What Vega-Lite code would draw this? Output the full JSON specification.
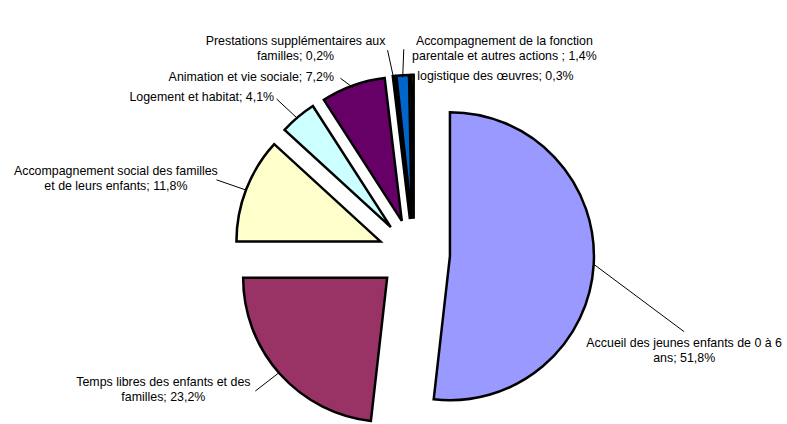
{
  "$schema": "https://vega.github.io/schema/vega-lite/v6.json",
  "width": 787,
  "height": 424,
  "padding": 0,
  "autosize": {"type": "fit", "contains": "padding"},
  "background": "white",
  "config": {"view": {"stroke": null}},
  "data": {
    "values": [
      {"categorie": "Accueil", "label": "Accueil des jeunes enfants de 0 à 6\nans; 51,8%", "value": 51.8},
      {"categorie": "Temps libres", "label": "Temps libres des enfants et des\nfamilles; 23,2%", "value": 23.2},
      {"categorie": "Accompagnement social", "label": "Accompagnement social des familles\net de leurs enfants; 11,8%", "value": 11.8},
      {"categorie": "Logement", "label": "Logement et habitat; 4,1%", "value": 4.1},
      {"categorie": "Animation", "label": "Animation et vie sociale; 7,2%", "value": 7.2},
      {"categorie": "Prestations", "label": "Prestations supplémentaires aux\nfamilles; 0,2%", "value": 0.2},
      {"categorie": "Fonction parentale", "label": "Accompagnement de la fonction\nparentale et autres actions ; 1,4%", "value": 1.4},
      {"categorie": "Logistique", "label": "logistique des œuvres; 0,3%", "value": 0.3}
    ]
  },
  "transform": [
    {"window": [{"op": "sum", "field": "value", "as": "cum"}], "frame": [null, 0]},
    {"calculate": "datum.cum - datum.value", "as": "start"},
    {"calculate": "(datum.start + datum.value / 2) * PI / 50", "as": "m"},
    {"calculate": "sin(datum.m)", "as": "sx"},
    {"calculate": "cos(datum.m)", "as": "sy"},
    {"calculate": "0.25 * datum.sx", "as": "ex"},
    {"calculate": "0.25 * datum.sy", "as": "ey"},
    {"calculate": "1.25 * datum.sx", "as": "ax"},
    {"calculate": "1.25 * datum.sy", "as": "ay"},
    {"calculate": "1.45 * datum.sx", "as": "px"},
    {"calculate": "1.45 * datum.sy", "as": "py"},
    {"calculate": "datum.sx > -0.07 ? 1 : -1", "as": "side"},
    {"calculate": "indexof(datum.label, '\\n')", "as": "nlpos"},
    {"calculate": "datum.nlpos < 0 ? 1 : 2", "as": "nl"},
    {"calculate": "datum.nlpos < 0 ? length(datum.label) : max(datum.nlpos, length(datum.label) - datum.nlpos - 1)", "as": "chars"},
    {"calculate": "datum.chars * 5.75 / 144", "as": "w"},
    {"calculate": "datum.nl * 15 / 144", "as": "h"},
    {"calculate": "datum.side == 1 ? datum.px + 0.04 + datum.w / 2 : datum.px - 0.04 - datum.w / 2", "as": "cxraw"},
    {"calculate": "datum.side == 1 ? min(datum.cxraw, 2.575 - datum.w / 2) : max(datum.cxraw, -2.86 + datum.w / 2)", "as": "cx"},
    {"calculate": "abs(datum.cx - datum.cxraw) > 0.001 ? 1 : 0", "as": "clamped"},
    {"calculate": "datum.side == 1 ? (datum.m > PI ? datum.m - 2 * PI : datum.m) : 2 * PI - datum.m", "as": "ordkey"},
    {"calculate": "datum.py + datum.h / 2", "as": "t"},
    {"calculate": "datum.h + 6 / 144", "as": "hg"},
    {
      "window": [
        {"op": "sum", "field": "hg", "as": "cumhg"},
        {"op": "first_value", "field": "t", "as": "t0"}
      ],
      "sort": [{"field": "ordkey", "order": "ascending"}],
      "groupby": ["side"],
      "frame": [null, 0]
    },
    {"calculate": "min(datum.t, datum.t0 - (datum.cumhg - datum.hg))", "as": "top1"},
    {"calculate": "datum.clamped == 1 ? min(datum.top1, datum.ey - sqrt(max(0, 1 - pow(datum.cx - datum.w / 2 - datum.ex, 2))) - 0.2) : datum.top1", "as": "top"},
    {"calculate": "datum.top - datum.h / 2", "as": "cy"},
    {"calculate": "datum.side == 1 ? (datum.clamped == 1 ? datum.cx : datum.cx - datum.w / 2 - 0.02) : datum.cx + datum.w / 2 + 0.02", "as": "lex"},
    {"calculate": "datum.clamped == 1 ? datum.top + 0.04 : datum.cy", "as": "ley"}
  ],
  "layer": [
    {
      "mark": {"type": "arc", "radius": 144, "stroke": "black", "strokeWidth": 2.5},
      "encoding": {
        "x": {"field": "ex", "type": "quantitative", "scale": {"domain": [-2.875, 2.5903], "nice": false, "zero": false}, "axis": null},
        "y": {"field": "ey", "type": "quantitative", "scale": {"domain": [-1.1493, 1.7951], "nice": false, "zero": false}, "axis": null},
        "theta": {"field": "start", "type": "quantitative", "stack": null, "scale": {"domain": [0, 100]}},
        "theta2": {"field": "cum"},
        "color": {
          "field": "categorie",
          "type": "nominal",
          "scale": {
            "domain": ["Accueil", "Temps libres", "Accompagnement social", "Logement", "Animation", "Prestations", "Fonction parentale", "Logistique"],
            "range": ["#9999FF", "#993366", "#FFFFCC", "#CCFFFF", "#660066", "#FF8080", "#0066CC", "#CCCCFF"]
          },
          "legend": null
        }
      }
    },
    {
      "mark": {"type": "rule", "color": "black", "strokeWidth": 1},
      "encoding": {
        "x": {"field": "ax", "type": "quantitative", "scale": {"domain": [-2.875, 2.5903], "nice": false, "zero": false}, "axis": null},
        "y": {"field": "ay", "type": "quantitative", "scale": {"domain": [-1.1493, 1.7951], "nice": false, "zero": false}, "axis": null},
        "x2": {"field": "lex"},
        "y2": {"field": "ley"}
      }
    },
    {
      "mark": {"type": "text", "lineBreak": "\n", "align": "center", "baseline": "top", "font": "Liberation Sans", "fontSize": 12.4, "lineHeight": 15, "color": "black"},
      "encoding": {
        "x": {"field": "cx", "type": "quantitative", "scale": {"domain": [-2.875, 2.5903], "nice": false, "zero": false}, "axis": null},
        "y": {"field": "top", "type": "quantitative", "scale": {"domain": [-1.1493, 1.7951], "nice": false, "zero": false}, "axis": null},
        "text": {"field": "label"}
      }
    }
  ]
}
